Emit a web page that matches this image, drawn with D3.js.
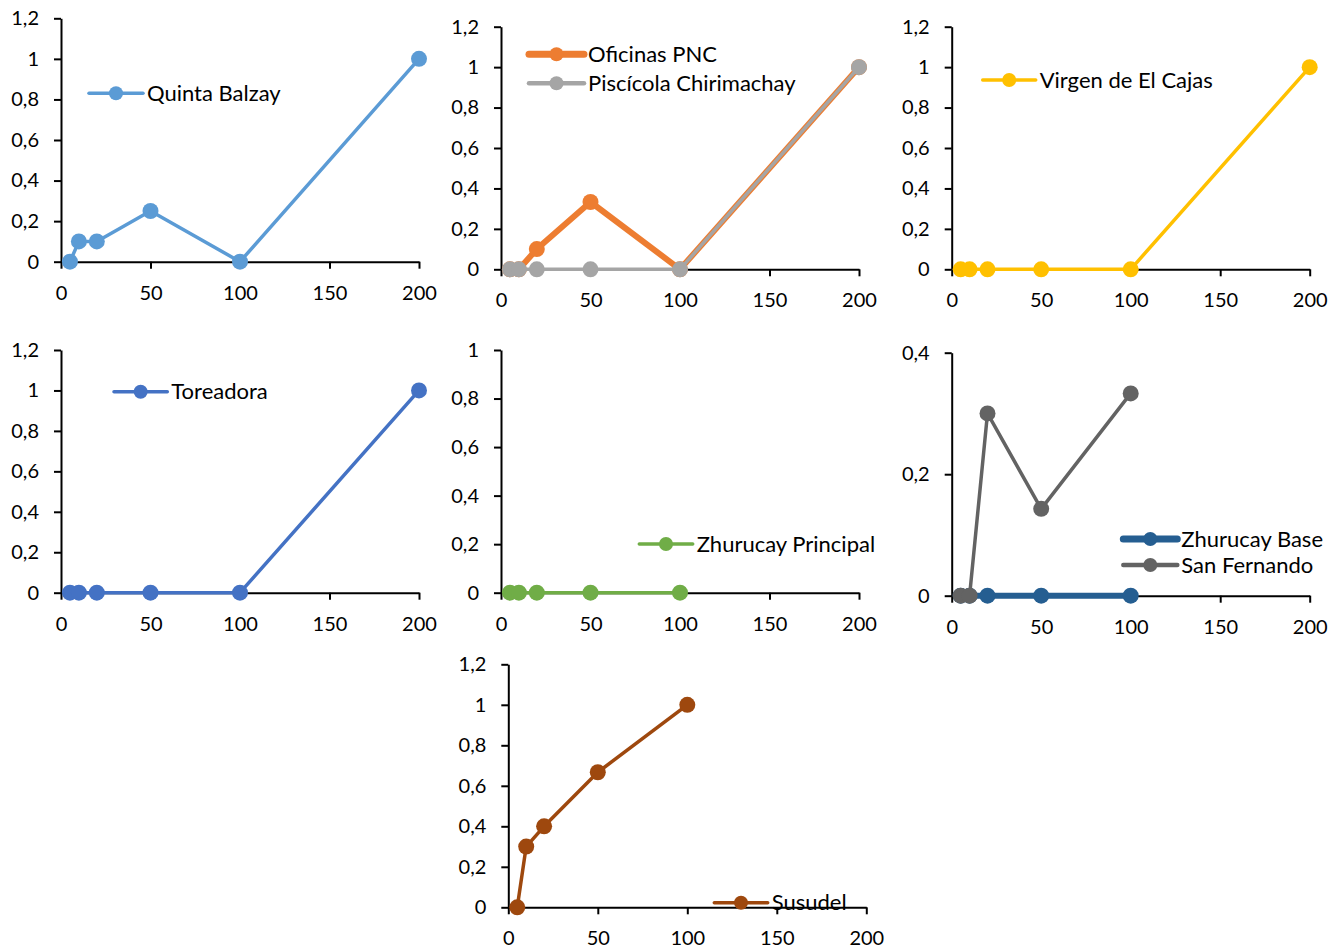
<!DOCTYPE html>
<html>
<head>
<meta charset="utf-8">
<script src="https://cdn.jsdelivr.net/npm/d3@7"></script>
<style>
  html, body { margin: 0; padding: 0; background: #fff; }
  svg { display: block; }
  text { font-family: Lato, "Open Sans", sans-serif; fill: #000; }
</style>
</head>
<body>
<svg id="chart" width="1339" height="950"></svg>
<script>
// ---------- DATA ----------
const xTicks = [0, 50, 100, 150, 200];
const xFull = [5, 10, 20, 50, 100, 200];
const xShort = [5, 10, 20, 50, 100];

const quintaBalzay = [0, 0.1, 0.1, 0.25, 0, 1];
const oficinasPNC = [0, 0, 0.1, 0.333, 0, 1];
const piscicolaChirimachay = [0, 0, 0, 0, 0, 1];
const virgenElCajas = [0, 0, 0, 0, 0, 1];
const toreadora = [0, 0, 0, 0, 0, 1];
const zhurucayPrincipal = [0, 0, 0, 0, 0];
const zhurucayBase = [0, 0, 0, 0, 0];
const sanFernando = [0, 0, 0.3, 0.143, 0.333];
const susudel = [0, 0.3, 0.4, 0.667, 1];

const yTicks12 = [0, 0.2, 0.4, 0.6, 0.8, 1, 1.2];
const yTicks10 = [0, 0.2, 0.4, 0.6, 0.8, 1];
const yTicks04 = [0, 0.2, 0.4];

// ---------- LAYOUT ----------
const svg = d3.select("#chart");
const locale = d3.formatLocale({decimal: ",", thousands: ".", grouping: [3], currency: ["", ""]});
const fmt = locale.format("~g");
const FS = 20;
const LFS = 22;

const panels = [
  {x0: 61, x1: 419, yTop: 18.3, yBot: 261.7, ymax: 1.2, yt: yTicks12,
   series: [{name: "Quinta Balzay", xs: xFull, ys: quintaBalzay, color: "#5B9BD5", w: 3.5, lw: 3.5}],
   legend: {lx1: 89, lx2: 143, ly: [93.3]}},
  {x0: 501, x1: 859, yTop: 26.7, yBot: 269.3, ymax: 1.2, yt: yTicks12,
   series: [{name: "Oficinas PNC", xs: xFull, ys: oficinasPNC, color: "#ED7D31", w: 6, lw: 7},
            {name: "Piscícola Chirimachay", xs: xFull, ys: piscicolaChirimachay, color: "#A5A5A5", w: 3.5, lw: 4.5}],
   legend: {lx1: 529, lx2: 584, ly: [54.3, 83.3]}},
  {x0: 951.7, x1: 1309.7, yTop: 26.7, yBot: 269.3, ymax: 1.2, yt: yTicks12,
   series: [{name: "Virgen de El Cajas", xs: xFull, ys: virgenElCajas, color: "#FFC000", w: 3.5, lw: 3.5}],
   legend: {lx1: 982.7, lx2: 1035.7, ly: [80]}},
  {x0: 61, x1: 419, yTop: 350, yBot: 592.7, ymax: 1.2, yt: yTicks12,
   series: [{name: "Toreadora", xs: xFull, ys: toreadora, color: "#4472C4", w: 3.5, lw: 3.5}],
   legend: {lx1: 114, lx2: 167.3, ly: [391.7]}},
  {x0: 501, x1: 859, yTop: 350, yBot: 592.7, ymax: 1.0, yt: yTicks10,
   series: [{name: "Zhurucay Principal", xs: xShort, ys: zhurucayPrincipal, color: "#70AD47", w: 3.5, lw: 3.5}],
   legend: {lx1: 639.3, lx2: 692.7, ly: [544]}},
  {x0: 951.7, x1: 1309.7, yTop: 352.7, yBot: 595.7, ymax: 0.4, yt: yTicks04,
   series: [{name: "Zhurucay Base", xs: xShort, ys: zhurucayBase, color: "#255E91", w: 6, lw: 7},
            {name: "San Fernando", xs: xShort, ys: sanFernando, color: "#636363", w: 3.5, lw: 4.5}],
   legend: {lx1: 1123.3, lx2: 1177.3, ly: [539, 565]}},
  {x0: 508.3, x1: 866.3, yTop: 664.3, yBot: 907.3, ymax: 1.2, yt: yTicks12,
   series: [{name: "Susudel", xs: xShort, ys: susudel, color: "#9E480E", w: 3.5, lw: 3.5}],
   legend: {lx1: 714.3, lx2: 767.7, ly: [902.7]}}
];

panels.forEach(p => {
  const g = svg.append("g");
  const x = d3.scaleLinear().domain([0, 200]).range([p.x0, p.x1]);
  const y = d3.scaleLinear().domain([0, p.ymax]).range([p.yBot, p.yTop]);

  const ya = g.append("g").attr("transform", `translate(${p.x0},0)`)
    .call(d3.axisLeft(y).tickValues(p.yt).tickFormat(fmt).tickSizeOuter(0).tickSizeInner(7).tickPadding(15));
  const xa = g.append("g").attr("transform", `translate(0,${p.yBot})`)
    .call(d3.axisBottom(x).tickValues(xTicks).tickFormat(d3.format("d")).tickSizeOuter(0).tickSizeInner(7).tickPadding(17));
  [ya, xa].forEach(a => {
    a.select(".domain").attr("stroke", "#000").attr("stroke-width", 2);
    a.selectAll(".tick line").attr("stroke", "#000").attr("stroke-width", 2);
    a.selectAll(".tick text").style("font-size", FS + "px").attr("fill", "#000")
      .style("font-family", "Lato, 'Open Sans', sans-serif");
  });

  p.series.forEach(s => {
    const pts = s.xs.map((xv, i) => [xv, s.ys[i]]);
    g.append("path").datum(pts)
      .attr("fill", "none").attr("stroke", s.color).attr("stroke-width", s.w)
      .attr("stroke-linejoin", "round").attr("stroke-linecap", "round")
      .attr("d", d3.line().x(d => x(d[0])).y(d => y(d[1])));
    g.selectAll(null).data(pts).enter().append("circle")
      .attr("cx", d => x(d[0])).attr("cy", d => y(d[1])).attr("r", 8)
      .attr("fill", s.color);
  });

  p.series.forEach((s, i) => {
    const ly = p.legend.ly[i];
    const lg = g.append("g");
    lg.append("line").attr("x1", p.legend.lx1).attr("x2", p.legend.lx2)
      .attr("y1", ly).attr("y2", ly).attr("stroke", s.color).attr("stroke-width", s.lw)
      .attr("stroke-linecap", "round");
    lg.append("circle").attr("cx", (p.legend.lx1 + p.legend.lx2) / 2).attr("cy", ly)
      .attr("r", 7).attr("fill", s.color);
    lg.append("text").attr("x", p.legend.lx2 + 4).attr("y", ly + 7.5)
      .style("font-size", LFS + "px").text(s.name);
  });
});
</script>
</body>
</html>
